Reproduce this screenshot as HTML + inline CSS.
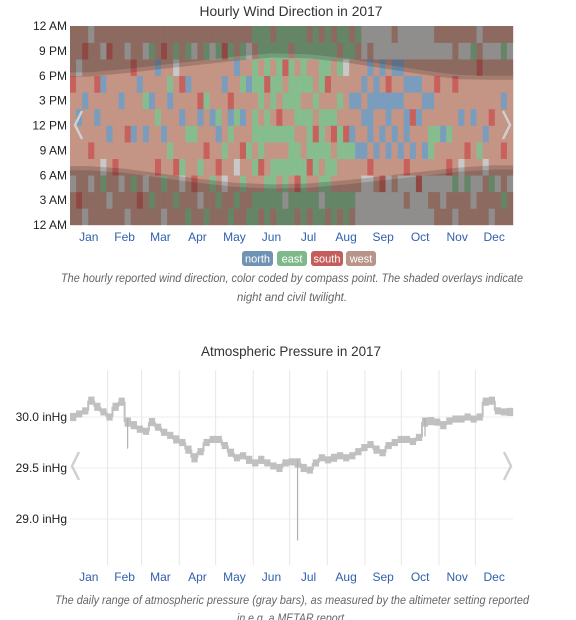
<!DOCTYPE html>
<html><head><meta charset="utf-8">
<style>
html,body{margin:0;padding:0;background:#fff;width:576px;height:620px;overflow:hidden}
svg{display:block}
.ttl{font:14px "Liberation Sans",sans-serif;fill:#333;text-anchor:middle}
.yl{font:12px "Liberation Sans",sans-serif;fill:#222;text-anchor:end}
.ml{font:12px "Liberation Sans",sans-serif;fill:#2f5fae;text-anchor:middle}
.cap{font:italic 12px "Liberation Sans",sans-serif;fill:#666;text-anchor:middle}
.lg{font:11px "Liberation Sans",sans-serif;fill:#fff;text-anchor:middle}
</style></head>
<body>
<svg id="s" width="576" height="620" viewBox="0 0 576 620">
<text class="ttl" x="291" y="16" textLength="183" lengthAdjust="spacingAndGlyphs">Hourly Wind Direction in 2017</text>
<g id="wind"></g>
<g id="windax"></g>
<g>
<rect x="242" y="251" width="31" height="15" rx="3" fill="#6f93b4"/><text class="lg" x="257.5" y="262.5">north</text>
<rect x="277" y="251" width="30" height="15" rx="3" fill="#7fb889"/><text class="lg" x="292" y="262.5">east</text>
<rect x="311" y="251" width="32" height="15" rx="3" fill="#c45e5c"/><text class="lg" x="327" y="262.5">south</text>
<rect x="346" y="251" width="30" height="15" rx="3" fill="#b89588"/><text class="lg" x="361" y="262.5">west</text>
</g>
<text class="cap" x="292" y="282" textLength="462" lengthAdjust="spacingAndGlyphs">The hourly reported wind direction, color coded by compass point. The shaded overlays indicate</text>
<text class="cap" x="292" y="301" textLength="110" lengthAdjust="spacingAndGlyphs">night and civil twilight.</text>

<text class="ttl" x="291" y="356" textLength="180" lengthAdjust="spacingAndGlyphs">Atmospheric Pressure in 2017</text>
<g id="pax"></g>
<g id="pbars"></g>
<text class="cap" x="292" y="604" textLength="474" lengthAdjust="spacingAndGlyphs">The daily range of atmospheric pressure (gray bars), as measured by the altimeter setting reported</text>
<text class="cap" x="292" y="622" textLength="110" lengthAdjust="spacingAndGlyphs">in e.g. a METAR report.</text>
</svg>
<script>
var months=["Jan","Feb","Mar","Apr","May","Jun","Jul","Aug","Sep","Oct","Nov","Dec"];
var monthStarts=[0,31,59,90,120,151,181,212,243,273,304,334,365];
var hourTicks=["12 AM","3 AM","6 AM","9 AM","12 PM","3 PM","6 PM","9 PM","12 AM"];
// wind: one string per 5-day block, 12 two-hour slots from midnight upward
var windBlocks=["wwgwwwwwswww","wswwwwnwwgww","gwwwwwwnwwsw","wwgwswwwwwwg","wwwwwwnwswww","wwegwwwwnwgw",
"wgwwwnwwwwsw","wwwswwwwwwww","wwgwwwwnwwww","gwwwwswwwwgw","wwewwnwwwsww","wswwwwwwnwww",
"wwgwwnwewwgw","wewwwwwnwwew","wwwswwewwnww","gwewwnwwwwsw","wwwwewwnewww","wewswwwwwgew",
"wwgewwnwswww","ewwwwewwnwew","wwswwewwwwgw","wgwewwnswwww","ewwwswwewwew","wwewwwnwwwgw",
"wewswnewwwew","wwgwewwwnwsw","ewwwwenswwew","wewgwwewwnww","wwewswnwewew","ewwwewwwnwgw",
"eeweweeweewe","wewseeweewee","eeewweewseee","weeeweweewew","eewewesweeee","egeewewewsee",
"eeweeeweeewe","weseeweeewee","eeeewweweeee","wewseeewewew","eeweeswewwee","egeweeeweeew",
"weeeewewseee","eewewsewwwew","wewweewewewe","eewweswwwgee","wewwenwnwwew","ggwwnwwnwwwe",
"gggwnwnwnwgg","gggswnnnwnwg","ggwwnwwnnwgg","ggswwnwnwngg","gggwnwnnswgg","ggwwwnwnwngw",
"gggwnwwnwngg","gwgswnnwnwgg","gggwnwswnwgg","ggswwwnwnwgg","gggwnwwnwwgg","gwgweewnwwgg",
"wwgwwewwswgw","wggwwnwwwwgw","wwgswewwwwgw","gwewwwwwswww","wwggwwnwwwgw","wwewswwwwwgw",
"wggwwwnwwwew","wwgwewwwwswg","wwwgwnwwwwgw","gwewwwswwwgw","wwgwwwwwwwgw","wewwswwnwwew","wwgwwwwwwwgw"];
var sunrise=[7.1,6.8,6.2,5.6,5.1,4.9,5.0,5.4,5.9,6.4,6.9,7.2];
var sunset=[17.9,18.3,18.8,19.3,19.8,20.2,20.1,19.6,18.9,18.2,17.6,17.5];
// pressure: one entry per 5-day block
var pressMean=[30.0,30.03,30.06,30.16,30.1,30.05, 30.0,30.1,30.15,29.95,29.92,29.88,
29.86,29.95,29.9,29.85,29.82,29.78, 29.75,29.68,29.6,29.66,29.75,29.78,
29.78,29.72,29.65,29.6,29.62,29.58, 29.55,29.58,29.55,29.52,29.5,29.55,
29.56,29.55,29.5,29.48,29.55,29.6, 29.58,29.6,29.62,29.6,29.62,29.66,
29.7,29.73,29.68,29.65,29.72,29.75, 29.78,29.78,29.76,29.8,29.95,29.96,
29.95,29.92,29.96,29.98,29.98,30.0, 29.98,30.0,30.15,30.16,30.06,30.05,30.05];
var pressRange=[0.08,0.07,0.07,0.08,0.08,0.07,0.07,0.08,0.08,0.3,0.08,0.07,0.07,0.08,0.07,0.07,0.07,0.08,
0.07,0.08,0.09,0.07,0.07,0.07,0.07,0.07,0.08,0.07,0.07,0.08,0.07,0.08,0.07,0.07,0.08,0.07,0.07,0.8,0.08,0.07,
0.07,0.07,0.07,0.08,0.07,0.07,0.07,0.07,0.07,0.07,0.08,0.07,0.07,0.07,0.07,0.07,0.07,0.07,0.18,0.08,0.07,0.08,
0.07,0.07,0.07,0.07,0.07,0.07,0.08,0.08,0.07,0.07,0.08];
var pressTicks=[29.0,29.5,30.0];

var NS="http://www.w3.org/2000/svg";
function mk(tag,attrs,parent){var e=document.createElementNS(NS,tag);for(var k in attrs)e.setAttribute(k,attrs[k]);parent.appendChild(e);return e;}
var X0=70,X1=513;
function xDay(d){return X0+(X1-X0)*d/365;}
var WT=26,WB=225;
function yHour(h){return WB-(WB-WT)*h/24;}
var col={w:"#c49484",n:"#7a9dbd",e:"#86bd8f",s:"#c8605c",g:"#c8c8c8"};

var gw=document.getElementById("wind");
windBlocks.forEach(function(str,i){
  var d0=i*5,d1=Math.min(365,d0+5);
  for(var j=0;j<12;j++){
    var r=mk("rect",{x:xDay(d0),y:yHour((j+1)*2),width:xDay(d1)-xDay(d0)+0.3,height:yHour(0)-yHour(2)+0.3,fill:col[str[j]]},gw);
    
    
  }
});
function mid(m){return (monthStarts[m]+monthStarts[m+1])/2;}
function band(isRise,off,fill,name){
  var arr=isRise?sunrise:sunset;
  var pts=[[xDay(0),arr[0]+off]];
  for(var m=0;m<12;m++)pts.push([xDay(mid(m)),arr[m]+off]);
  pts.push([xDay(365),arr[11]+off]);
  var d="";
  pts.forEach(function(p,k){d+=(k?"L":"M")+p[0]+","+yHour(p[1]);});
  var edge=isRise?0:24;
  d+="L"+xDay(365)+","+yHour(edge)+"L"+xDay(0)+","+yHour(edge)+"Z";
  var p=mk("path",{d:d,fill:fill},gw);
  
  
}
band(true,0,"rgba(40,30,30,0.2)","morning-twilight-overlay");
band(true,-0.5,"rgba(40,30,30,0.18)","night-morning-overlay");
band(false,0,"rgba(40,30,30,0.2)","evening-twilight-overlay");
band(false,0.5,"rgba(40,30,30,0.18)","night-evening-overlay");

var wa=document.getElementById("windax");
hourTicks.forEach(function(t,i){
  var tx=mk("text",{"class":"yl",x:67,y:yHour(i*3)+4},wa);tx.textContent=t;
  
  
});
months.forEach(function(m,i){
  var tx=mk("text",{"class":"ml",x:xDay(mid(i)),y:241},wa);tx.textContent=m;
  
  
});
function chevron(parent,x,y,dir,name){
  var p=mk("path",{d:"M"+(x+7*dir)+","+(y-14)+"L"+x+","+y+"L"+(x+7*dir)+","+(y+14),fill:"none",stroke:"#d0d0d0","stroke-width":2.5},parent);
  
  
}
chevron(wa,75,125,1,"wind-prev-arrow");
chevron(wa,510,125,-1,"wind-next-arrow");

var PT=370,PB=565;
function yP(v){return 417+(30.0-v)*102;}
var pa=document.getElementById("pax");
pressTicks.forEach(function(t){
  var l=mk("line",{x1:X0,x2:X1,y1:yP(t),y2:yP(t),stroke:"#eee"},pa);
  
  
  var tx=mk("text",{"class":"yl",x:67,y:yP(t)+4},pa);tx.textContent=t.toFixed(1)+" inHg";
  
  
});
for(var m=1;m<12;m++){
  var l=mk("line",{x1:xDay(monthStarts[m]),x2:xDay(monthStarts[m]),y1:PT,y2:PB,stroke:"#e6e6e6"},pa);
  
  
}
months.forEach(function(m,i){
  var tx=mk("text",{"class":"ml",x:xDay(mid(i)),y:581},pa);tx.textContent=m;
  
  
});
var pb=document.getElementById("pbars");
var prevY=null;
pressMean.forEach(function(v,i){
  var d0=i*5,d1=Math.min(365,d0+5),rg=pressRange[i];
  var hmain=Math.min(rg,0.09);
  var r=mk("rect",{x:xDay(d0),y:yP(v+hmain/2),width:xDay(d1)-xDay(d0)+0.2,height:hmain*102,fill:"#c0c0c0"},pb);
  
  
  if(prevY!==null){
    var c=mk("line",{x1:xDay(d0),x2:xDay(d0),y1:prevY,y2:yP(v),stroke:"#c0c0c0","stroke-width":2},pb);
    
    
  }
  prevY=yP(v);
  if(rg>0.1){
    var s=mk("line",{x1:xDay(d0+2.5),x2:xDay(d0+2.5),y1:yP(v+0.04),y2:yP(v-rg+0.04),stroke:"#b0b0b0","stroke-width":1.2},pb);
    
    
  }
});
chevron(pa,72,466,1,"pressure-prev-arrow");
chevron(pa,511,466,-1,"pressure-next-arrow");
</script>
</body></html>
